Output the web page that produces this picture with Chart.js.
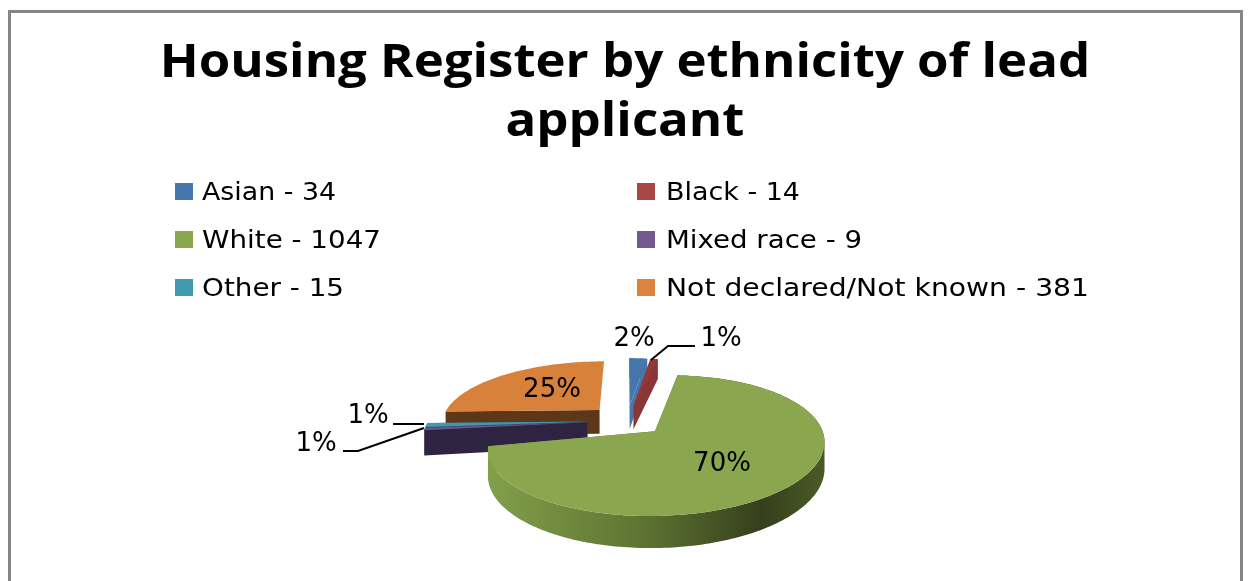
<!DOCTYPE html>
<html><head><meta charset="utf-8">
<style>html,body{margin:0;padding:0;background:#fff}canvas{display:block}</style>
<script src="https://cdn.jsdelivr.net/npm/chart.js@4"></script>
</head><body><canvas id="c" width="1256" height="581"></canvas>
<script>
const titleLines = ["Housing Register by ethnicity of lead","applicant"];
const categories = ["Asian","Black","White","Mixed race","Other","Not declared/Not known"];
const values = [34,14,1047,9,15,381];
const topColors = ["#4676ac","#93393a","#8aa64e","#6d5590","#4398b0","#d8813b"];
const wallColors = ["#4676ac","#8a3636","#5f7536","#2e2340","#2a5f70","#5e3718"];
const legendColors = ["#4677ac","#a74745","#8aa64e","#74598f","#4198af","#db843d"];
const legendTextWidths = [134,134,179,196,142,423];

// projection of the unit pie plane onto the picture
const P = {cx:627, cy:420.5, A:158.5, a:62.2, k:0.2, depth:24.5, explode:0.25, greenShear:-6.5};
function proj(u,v,d,sh){const w=1-P.k*v;return [P.cx+P.A*u/w, P.cy+(P.a*v+(d?P.depth:0))/w+(sh||0)*u];}

function sliceOutline(el){
  const s=el.startAngle+Math.PI/2,e=el.endAngle+Math.PI/2,m=(s+e)/2;
  const ou=P.explode*Math.sin(m),ov=-P.explode*Math.cos(m);
  const pts=[[ou,ov]];
  const n=Math.max(2,Math.ceil((e-s)/0.02));
  for(let i=0;i<=n;i++){const t=s+(e-s)*i/n;pts.push([ou+Math.sin(t),ov-Math.cos(t)]);}
  return pts;
}
const pie3d={id:'pie3d',
  beforeDraw(chart){ // the title is set wider than the font's natural width
    const ctx=chart.ctx;ctx.save();ctx.translate(625,0);ctx.scale(1.107,1);ctx.translate(-625,0);
  },
  beforeDatasetsDraw(chart){chart.ctx.restore();},
  beforeDatasetDraw(chart,args){
    const ctx=chart.ctx,els=chart.getDatasetMeta(args.index).data;
    const order=[5,0,1,4,3,2];
    ctx.save();
    order.forEach(i=>{
      const pts=sliceOutline(els[i]);
      const sh=i===2?P.greenShear:0;
      let wall=wallColors[i];
      if(i===2){const g=ctx.createLinearGradient(487,0,822,0);
        g.addColorStop(0,"#82a04a");g.addColorStop(.45,"#5f7533");g.addColorStop(.82,"#363f1c");g.addColorStop(1,"#4a5a27");wall=g;}
      const last=i===5?1:pts.length;
      ctx.beginPath();
      for(let j=0;j<last;j++){
        const a=pts[j],b=pts[(j+1)%pts.length];
        let q=[proj(a[0],a[1],0,sh),proj(b[0],b[1],0,sh),proj(b[0],b[1],1,sh),proj(a[0],a[1],1,sh)];
        let area=0;for(let m=0;m<4;m++){const p=q[m],r=q[(m+1)%4];area+=p[0]*r[1]-r[0]*p[1];}
        if(area<0)q=q.reverse();
        q.forEach((p,m)=>m?ctx.lineTo(p[0],p[1]):ctx.moveTo(p[0],p[1]));ctx.closePath();
      }
      ctx.fillStyle=wall;ctx.fill('nonzero');
      ctx.beginPath();pts.forEach((p,k)=>{const q=proj(p[0],p[1],0,sh);k?ctx.lineTo(q[0],q[1]):ctx.moveTo(q[0],q[1]);});
      ctx.closePath();ctx.fillStyle=topColors[i];ctx.fill();
    });
    ctx.restore();
    return false;
  },
  afterDraw(chart){
    const ctx=chart.ctx;ctx.save();
    // frame
    ctx.strokeStyle="#868686";ctx.lineWidth=3;
    ctx.beginPath();ctx.moveTo(9.5,590);ctx.lineTo(9.5,11.5);ctx.lineTo(1241.5,11.5);ctx.lineTo(1241.5,590);ctx.stroke();
    // legend
    const sx=[175,637],tx=[202,666],ry=[193,241,289];
    ctx.font="25px 'DejaVu Sans'";ctx.textBaseline="middle";
    categories.forEach((c,i)=>{
      const col=i%2,row=(i-col)/2,text=c+" - "+values[i];
      ctx.fillStyle=legendColors[i];ctx.fillRect(sx[col],ry[row]-10,18,17);
      const sc=legendTextWidths[i]/ctx.measureText(text).width;
      ctx.save();ctx.translate(tx[col],ry[row]);ctx.scale(sc,1);
      ctx.fillStyle="#000";ctx.fillText(text,0,0);ctx.restore();
    });
    // leaders
    ctx.strokeStyle="#000";ctx.lineWidth=2;
    [[[651,360],[668,346],[695,346]],[[393,424],[424,424]],[[343,451],[358,451],[424,428]]].forEach(l=>{
      ctx.beginPath();l.forEach((p,i)=>i?ctx.lineTo(p[0],p[1]):ctx.moveTo(p[0],p[1]));ctx.stroke();});
    // value labels
    const total=values.reduce((a,b)=>a+b,0);
    const pos=[[634,339],[721,339],[722,464],[316,444],[368,416],[552,390]];
    ctx.font="26px 'DejaVu Sans'";ctx.textAlign="center";ctx.fillStyle="#000";
    values.forEach((v,i)=>ctx.fillText(Math.round(v/total*100)+"%",pos[i][0],pos[i][1]));
    ctx.restore();
  }};
new Chart(document.getElementById('c'),{
  type:'pie',
  data:{labels:categories,datasets:[{data:values,backgroundColor:topColors,borderWidth:0}]},
  options:{responsive:false,animation:false,rotation:0,circumference:360,
    layout:{padding:{top:35,right:6}},
    plugins:{legend:{display:false},tooltip:{enabled:false},
      title:{display:true,text:titleLines,color:"#000",padding:0,font:{family:"'Open Sans'",size:46,weight:'bold',lineHeight:1.27}}}},
  plugins:[pie3d]});
</script></body></html>
